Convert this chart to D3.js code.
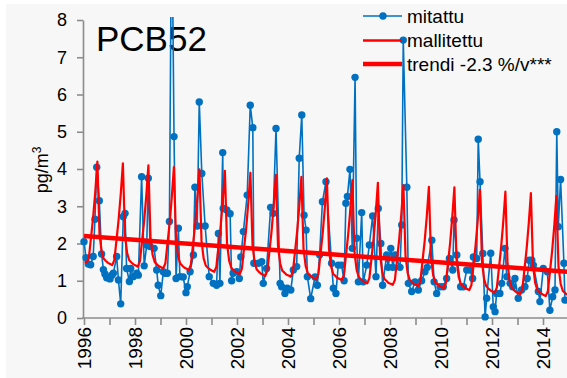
<!DOCTYPE html>
<html>
<head>
<meta charset="utf-8">
<script src="https://cdn.jsdelivr.net/npm/d3@7"></script>
<style>
  html, body { margin: 0; padding: 0; background: #ffffff; }
  svg { display: block; font-family: Arial, "Liberation Sans", sans-serif; }
</style>
</head>
<body>
<svg id="chart" width="567" height="378"></svg>
<script>
// PCB52 air concentrations: measured samples, seasonal model, linear trend
const title = "PCB52";
const yAxisLabel = "pg/m";
const yAxisLabelSup = "3";
const legendLabels = ["mitattu", "mallitettu", "trendi -2.3 %/v***"];

const yTicks = [0, 1, 2, 3, 4, 5, 6, 7, 8];
const xTicks = [1996, 1997, 1998, 1999, 2000, 2001, 2002, 2003, 2004, 2005,
                2006, 2007, 2008, 2009, 2010, 2011, 2012, 2013, 2014, 2015];
const xLabels = [1996, 1998, 2000, 2002, 2004, 2006, 2008, 2010, 2012, 2014];

// measured samples: [decimal year, pg/m3]
const measured = [
  [1996.00,2.05],[1996.08,1.62],[1996.17,1.45],[1996.26,1.43],[1996.36,1.65],[1996.43,2.65],
  [1996.50,4.05],[1996.60,3.15],[1996.69,1.72],[1996.76,1.30],[1996.82,1.18],[1996.89,1.08],
  [1997.02,1.05],[1997.09,1.15],[1997.15,1.20],[1997.28,1.65],[1997.35,1.02],[1997.44,0.38],
  [1997.54,2.72],[1997.61,2.81],[1997.67,1.33],[1997.78,0.98],[1997.83,1.33],[1997.93,1.11],
  [1998.07,1.20],[1998.13,1.15],[1998.26,3.79],[1998.36,1.40],[1998.46,1.96],[1998.52,3.75],
  [1998.59,1.92],[1998.75,1.87],[1998.85,1.29],[1998.91,0.88],
  [1999.01,0.60],[1999.11,1.24],[1999.18,1.20],[1999.27,1.20],[1999.35,2.59],[1999.44,11.5],
  [1999.53,4.87],[1999.61,1.06],[1999.70,2.41],[1999.76,1.11],[1999.89,1.10],
  [2000.00,0.68],[2000.05,0.84],[2000.16,1.24],[2000.29,1.69],[2000.35,3.51],[2000.44,2.47],
  [2000.52,5.80],[2000.62,3.88],[2000.75,2.47],[2000.91,1.11],
  [2001.07,0.93],[2001.20,0.88],[2001.27,2.27],[2001.33,0.93],[2001.44,4.44],[2001.46,2.94],
  [2001.60,2.90],[2001.73,2.80],[2001.79,1.00],[2001.85,1.20],[2001.99,1.24],
  [2002.09,1.06],[2002.15,1.64],[2002.25,2.32],[2002.40,3.30],[2002.52,5.71],[2002.62,5.11],
  [2002.66,1.47],[2002.84,1.47],[2002.97,1.51],
  [2003.03,0.93],[2003.16,1.33],[2003.32,2.97],[2003.42,2.81],[2003.53,5.09],[2003.69,0.93],
  [2003.75,0.84],[2003.88,0.66],[2003.97,0.80],
  [2004.11,0.75],[2004.21,1.29],[2004.34,1.38],[2004.44,4.29],[2004.54,5.45],[2004.63,2.76],
  [2004.71,2.36],[2004.76,1.11],[2004.89,0.52],
  [2005.06,1.10],[2005.15,0.88],[2005.24,1.70],[2005.35,3.12],[2005.49,3.66],[2005.71,1.47],
  [2005.78,0.80],[2005.88,0.66],[2005.97,1.42],
  [2006.10,1.42],[2006.20,1.00],[2006.27,3.08],[2006.33,3.26],[2006.43,3.99],[2006.52,1.87],
  [2006.63,6.46],[2006.69,2.14],[2006.76,0.97],[2006.89,2.83],[2006.95,0.97],
  [2007.09,1.42],[2007.19,1.96],[2007.32,2.74],[2007.45,1.11],[2007.54,2.94],[2007.64,2.00],
  [2007.71,0.88],[2007.87,1.69],[2007.93,1.36],
  [2008.03,1.87],[2008.11,1.36],[2008.20,1.69],[2008.39,1.36],[2008.46,2.50],[2008.52,7.46],
  [2008.66,3.51],[2008.72,0.93],[2008.85,0.71],[2008.98,0.97],
  [2009.11,0.75],[2009.24,1.00],[2009.37,1.24],[2009.46,1.36],[2009.64,2.09],[2009.73,0.97],
  [2009.83,0.66],[2009.96,0.84],
  [2010.09,0.84],[2010.22,1.06],[2010.33,1.60],[2010.46,1.29],[2010.51,2.63],[2010.62,1.69],
  [2010.77,0.84],[2010.88,0.84],
  [2011.01,1.29],[2011.14,1.29],[2011.24,1.06],[2011.27,1.64],[2011.40,1.60],[2011.46,4.80],
  [2011.53,3.66],[2011.64,1.73],[2011.73,0.03],[2011.79,0.53],[2011.95,1.74],
  [2012.05,0.30],[2012.12,0.17],[2012.18,0.66],[2012.31,0.66],[2012.38,0.93],[2012.51,1.87],
  [2012.58,1.11],[2012.71,0.93],[2012.81,0.84],[2012.90,1.06],
  [2013.03,0.53],[2013.16,0.75],[2013.29,0.84],[2013.38,1.06],[2013.46,1.55],[2013.56,1.55],
  [2013.62,1.42],[2013.82,0.71],[2013.88,0.44],
  [2014.01,1.33],[2014.17,1.24],[2014.27,0.21],[2014.38,0.57],[2014.47,0.75],[2014.54,5.00],
  [2014.60,2.45],[2014.69,3.72],[2014.82,1.47],[2014.86,0.48]
];

// modelled monthly values, Jan..Dec for each year from 1996
const modelStartYear = 1996;
const modelled = [
  1.51,1.49,1.62,2.16,2.70,3.38,4.20,2.25,1.78,1.59,1.53,1.48,
  1.45,1.42,1.56,2.10,2.65,3.33,4.15,2.21,1.74,1.55,1.49,1.44,
  1.41,1.38,1.52,2.06,2.60,3.28,4.10,2.16,1.69,1.50,1.44,1.39,
  1.36,1.33,1.47,2.01,2.55,3.23,4.05,2.12,1.65,1.46,1.40,1.35,
  1.32,1.29,1.43,1.97,2.51,3.18,3.99,2.07,1.60,1.41,1.35,1.30,
  1.27,1.24,1.38,1.92,2.46,3.14,3.95,2.01,1.54,1.35,1.29,1.24,
  1.21,1.18,1.32,1.86,2.40,3.08,3.90,1.96,1.49,1.30,1.24,1.19,
  1.16,1.13,1.27,1.81,2.35,3.03,3.84,1.93,1.47,1.27,1.22,1.16,
  1.14,1.11,1.24,1.78,2.32,2.99,3.79,1.87,1.40,1.21,1.15,1.10,
  1.07,1.04,1.18,1.72,2.26,2.94,3.75,1.84,1.38,1.18,1.13,1.07,
  1.05,1.02,1.15,1.69,2.23,2.90,3.70,1.76,1.29,1.10,1.04,0.99,
  0.96,0.93,1.07,1.61,2.15,2.82,3.63,1.71,1.25,1.05,1.00,0.94,
  0.92,0.89,1.02,1.56,2.10,2.77,3.57,1.67,1.21,1.02,0.97,0.91,
  0.89,0.86,0.99,1.53,2.06,2.72,3.52,1.62,1.15,0.96,0.91,0.85,
  0.83,0.80,0.94,1.48,2.02,2.70,3.51,1.58,1.11,0.92,0.86,0.81,
  0.78,0.75,0.88,1.42,1.96,2.63,3.44,1.51,1.04,0.85,0.79,0.74,
  0.71,0.68,0.82,1.36,1.90,2.58,3.39,1.47,1.00,0.81,0.75,0.70,
  0.67,0.64,0.78,1.32,1.86,2.54,3.35,1.42,0.95,0.76,0.70,0.65,
  0.62,0.59,0.72,1.26,1.80,2.47,3.28,1.38,0.92,0.73,0.68,0.62
];

// linear trend end points
const trendYears = [1996, 2015];
const trendValues = [2.20, 1.24];

const W = 567, H = 378;
const BLUE = "#0070C0", RED = "#FF0000", AXIS = "#8c8c8c";

const svg = d3.select("#chart");

// panel background
svg.append("rect").attr("x", 6).attr("y", 4)
  .attr("width", W - 6).attr("height", H - 4).attr("fill", "#f7f7f7");

const x = d3.scaleLinear().domain([1996, 2015]).range([84, 568.5]);
const y = d3.scaleLinear().domain([0, 8]).range([318, 20]);

svg.append("defs").append("clipPath").attr("id", "plotClip")
  .append("rect").attr("x", 80).attr("y", 17).attr("width", W - 80).attr("height", 310);

// axes
const yAxis = svg.append("g").attr("transform", "translate(83,0)")
  .call(d3.axisLeft(y).tickValues(yTicks).tickSize(6).tickSizeOuter(0).tickPadding(10));
const xAxis = svg.append("g").attr("transform", "translate(0,318)")
  .call(d3.axisBottom(x).tickValues(xTicks).tickSize(7).tickSizeOuter(0)
    .tickFormat(d => xLabels.includes(d) ? String(d) : ""));

[yAxis, xAxis].forEach(g => {
  g.select(".domain").attr("stroke", AXIS).attr("stroke-width", 1.6);
  g.selectAll(".tick line").attr("stroke", AXIS).attr("stroke-width", 1.6);
  g.selectAll(".tick text").attr("fill", "#000").style("font-family", "Arial, 'Liberation Sans', sans-serif");
});
// join x-axis line to the y axis
xAxis.select(".domain").attr("d", `M${83 - 0.8},0H${W + 5}`);
yAxis.selectAll(".tick text").style("font-size", "18px");
xAxis.selectAll(".tick text")
  .style("font-size", "19px")
  .attr("transform", "rotate(-90)")
  .attr("text-anchor", "end")
  .attr("x", -9).attr("y", 0).attr("dy", "0.36em");

// y axis title
const yt = svg.append("text")
  .attr("transform", "translate(48,170) rotate(-90)")
  .attr("text-anchor", "middle")
  .style("font-size", "18px").attr("fill", "#000");
yt.append("tspan").text(yAxisLabel);
yt.append("tspan").text(yAxisLabelSup).attr("dy", -7).style("font-size", "12px");

// chart title
svg.append("text").attr("x", 96).attr("y", 51)
  .style("font-size", "35px").attr("fill", "#000").text(title);

const plot = svg.append("g").attr("clip-path", "url(#plotClip)");

// measured series
plot.append("path").datum(measured)
  .attr("fill", "none").attr("stroke", BLUE).attr("stroke-width", 1.6)
  .attr("stroke-linejoin", "round")
  .attr("d", d3.line().x(d => x(d[0])).y(d => y(d[1])));
plot.selectAll("circle.m").data(measured).join("circle")
  .attr("class", "m")
  .attr("cx", d => x(d[0])).attr("cy", d => y(d[1])).attr("r", 3.7)
  .attr("fill", BLUE);

// modelled series
const modelPoints = modelled.map((v, i) => [modelStartYear + (i + 0.3) / 12, v]);
plot.append("path").datum(modelPoints)
  .attr("fill", "none").attr("stroke", RED).attr("stroke-width", 2.2)
  .attr("stroke-linejoin", "round")
  .attr("d", d3.line().x(d => x(d[0])).y(d => y(d[1])));

// trend
const trendPoints = trendYears.map((t, i) => [t, trendValues[i]]);
plot.append("path").datum(trendPoints)
  .attr("fill", "none").attr("stroke", RED).attr("stroke-width", 4.5)
  .attr("d", d3.line().x(d => x(d[0])).y(d => y(d[1])));

// legend
const lg = svg.append("g");
const legendRows = [16, 40.5, 64];
lg.append("line").attr("x1", 363).attr("x2", 402).attr("y1", legendRows[0]).attr("y2", legendRows[0])
  .attr("stroke", BLUE).attr("stroke-width", 1.6);
lg.append("circle").attr("cx", 383).attr("cy", legendRows[0]).attr("r", 3.7).attr("fill", BLUE);
lg.append("line").attr("x1", 363).attr("x2", 402).attr("y1", legendRows[1]).attr("y2", legendRows[1])
  .attr("stroke", RED).attr("stroke-width", 2.4);
lg.append("line").attr("x1", 363).attr("x2", 402).attr("y1", legendRows[2]).attr("y2", legendRows[2])
  .attr("stroke", RED).attr("stroke-width", 4.5);
legendLabels.forEach((t, i) => {
  lg.append("text").attr("x", 407).attr("y", legendRows[i]).attr("dy", "0.35em")
    .style("font-size", "19px").attr("fill", "#000").text(t);
});
</script>
</body>
</html>
